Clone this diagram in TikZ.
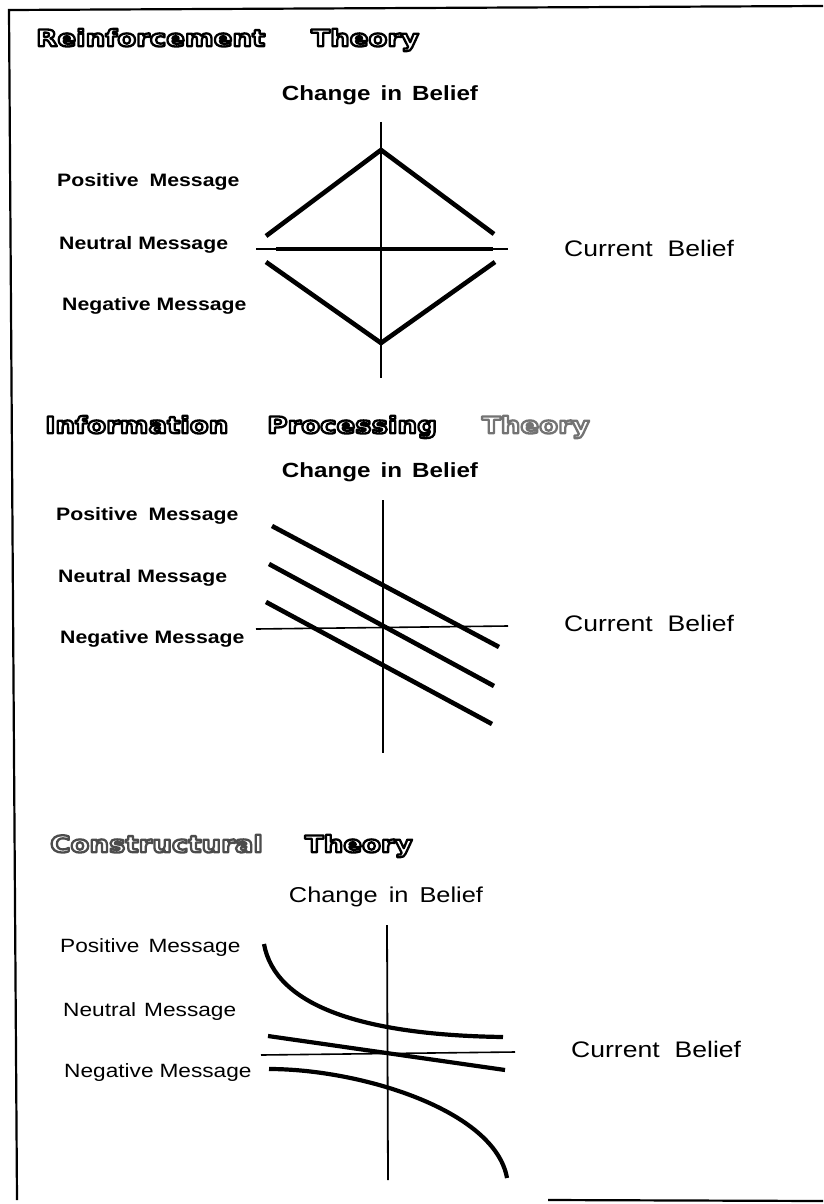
\documentclass[tikz,border=0pt]{standalone}
\usepackage{fontspec}
\newfontfamily\labf[FakeStretch=1.18]{Liberation Sans}
\newfontfamily\ttlf[FakeStretch=1.2]{DejaVu Sans}
% hollow (outlined) lettering: white fill, coloured stroke, via PDF text render mode 2
\newcommand{\hollow}[2][0 0 0]{{\color{white}\special{pdf:literal direct #1 RG 2.3 w 1 j 2 Tr}#2\special{pdf:literal direct 0 Tr 0.4 w}}}
\tikzset{
  ttl/.style={anchor=west, inner sep=0pt, font=\ttlf\bfseries\fontsize{23}{26}\selectfont},
  lblb/.style={anchor=west, inner sep=0pt, font=\labf\bfseries\fontsize{18}{21}\selectfont},
  lblr/.style={anchor=west, inner sep=0pt, font=\labf\fontsize{19.2}{22}\selectfont},
  cibb/.style={inner sep=0pt, font=\labf\bfseries\fontsize{20.5}{23}\selectfont},
  cibr/.style={inner sep=0pt, font=\labf\fontsize{21.5}{24}\selectfont},
  cur/.style={anchor=west, inner sep=0pt, font=\labf\fontsize{22.5}{25}\selectfont},
  axisline/.style={line width=1.8pt},
  baseline/.style={line width=1.6pt},
  thick line/.style={line width=4.6pt, line join=miter},
  frame/.style={line width=2.2pt}
}
\begin{document}
\begin{tikzpicture}[x=1pt,y=-1pt]
\useasboundingbox (0,0) rectangle (823,1204);
\fill[white] (0,0) rectangle (823,1204);
% frame
\coordinate (fTR) at (823,6);
\coordinate (fTL) at (9,10);
\coordinate (fBL) at (17,1200);
\coordinate (fB1) at (548,1200);
\coordinate (fB2) at (823,1201);
\draw[frame] (fTR) -- (fTL) -- (fBL);
\draw[frame] (fB1) -- (fB2);

% ---------------- Section 1: Reinforcement Theory
\node[ttl] (t1) at (36,40) {\hollow{Reinforcement}\hspace{46pt}\hollow{Theory}};
\node[cibb] (c1) at (380,95) {Change\hspace{10pt}in\hspace{10pt}Belief};
\node[lblb] (p1) at (57,182) {Positive\hspace{11pt}Message};
\node[lblb] (n1) at (59,245) {Neutral\hspace{6pt}Message};
\node[lblb] (g1) at (62,306) {Negative\hspace{6pt}Message};
\node[cur] (b1) at (564,248) {Current\hspace{15pt}Belief};
\coordinate (a1t) at (381,122);
\coordinate (a1b) at (381,378);
\draw[axisline] (a1t) -- (a1b);
\coordinate (h1l) at (256,249);
\coordinate (h1r) at (508,249);
\draw[baseline] (h1l) -- (h1r);
\coordinate (n1l) at (276,248.5);
\coordinate (n1r) at (493,248.5);
\draw[line width=4pt] (n1l) -- (n1r);
\coordinate (u1l) at (266,236);
\coordinate (u1v) at (381,150);
\coordinate (u1r) at (494,234);
\draw[thick line] (u1l) -- (u1v) -- (u1r);
\coordinate (d1l) at (266,262);
\coordinate (d1v) at (381,343);
\coordinate (d1r) at (495,262);
\draw[thick line] (d1l) -- (d1v) -- (d1r);

% ---------------- Section 2: Information Processing Theory
\node[ttl] (t2) at (45,427) {\hollow{Information}\hspace{39pt}\hollow{Processing}\hspace{45pt}\hollow[0.45 0.45 0.45]{Theory}};
\node[cibb] (c2) at (380,472) {Change\hspace{10pt}in\hspace{10pt}Belief};
\node[lblb] (p2) at (56,516) {Positive\hspace{11pt}Message};
\node[lblb] (n2) at (58,578) {Neutral\hspace{6pt}Message};
\node[lblb] (g2) at (60,639) {Negative\hspace{6pt}Message};
\node[cur] (b2) at (564,623) {Current\hspace{15pt}Belief};
\coordinate (a2t) at (383,500);
\coordinate (a2b) at (383,753);
\draw[axisline] (a2t) -- (a2b);
\coordinate (h2l) at (256,629);
\coordinate (h2r) at (508,626);
\draw[baseline] (h2l) -- (h2r);
\coordinate (l2a) at (272,526);
\coordinate (r2a) at (499,647);
\coordinate (l2b) at (269,564);
\coordinate (r2b) at (494,686);
\coordinate (l2c) at (266,602);
\coordinate (r2c) at (492,724);
\draw[thick line] (l2a) -- (r2a);
\draw[thick line] (l2b) -- (r2b);
\draw[thick line] (l2c) -- (r2c);

% ---------------- Section 3: Constructural Theory
\node[ttl] (t3) at (50,846) {\hollow[0.3 0.3 0.3]{Constructural}\hspace{42pt}\hollow{Theory}};
\node[cibr] (c3) at (386,897) {Change\hspace{11pt}in\hspace{11pt}Belief};
\node[lblr] (p3) at (60,948) {Positive\hspace{9pt}Message};
\node[lblr] (n3) at (63,1012) {Neutral\hspace{8pt}Message};
\node[lblr] (g3) at (64,1073) {Negative\hspace{6pt}Message};
\node[cur] (b3) at (571,1049) {Current\hspace{15pt}Belief};
\coordinate (a3t) at (387,925);
\coordinate (a3b) at (388,1180);
\draw[axisline] (a3t) -- (a3b);
\coordinate (h3l) at (261,1055);
\coordinate (h3r) at (515,1052);
\draw[baseline] (h3l) -- (h3r);
\coordinate (n3l) at (268,1036);
\coordinate (n3r) at (505,1070);
\draw[line width=4.2pt] (n3l) -- (n3r);
\coordinate (p3s) at (264,944);
\coordinate (p3e) at (503,1037);
\draw[line width=4.2pt] (p3s) .. controls (275,1005) and (360,1035) .. (p3e);
\coordinate (g3s) at (269,1069);
\coordinate (g3e) at (507,1178);
\draw[line width=4.2pt] (g3s) .. controls (360,1069) and (495,1110) .. (g3e);
\end{tikzpicture}
\end{document}
